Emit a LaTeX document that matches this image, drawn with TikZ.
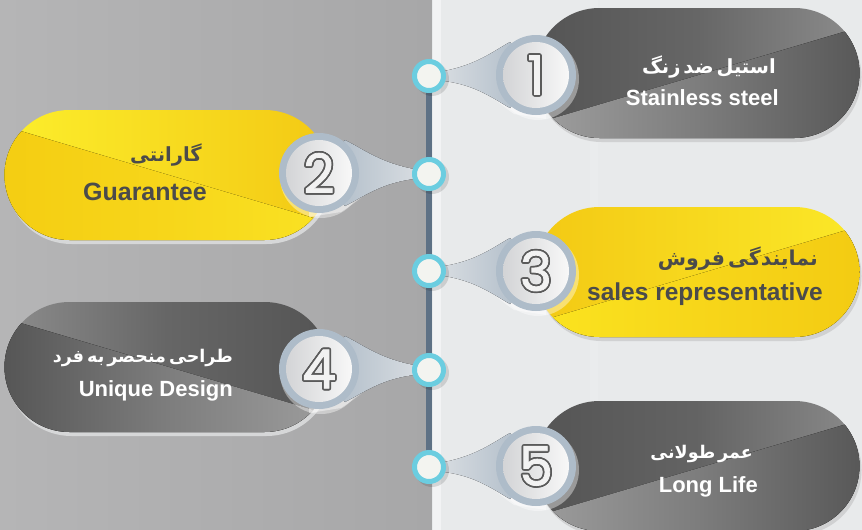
\documentclass[tikz,border=0pt]{standalone}
\usepackage{fontspec}
\setmainfont{Liberation Sans}
\newfontfamily\fafont[Script=Arabic]{DejaVu Sans}
\newfontfamily\digitfont[FakeBold=1.5]{Poppins}
\TeXXeTstate=1
\usetikzlibrary{shapes.misc}
\definecolor{bgLa}{HTML}{B5B5B6}
\definecolor{bgLb}{HTML}{A7A7A8}
\definecolor{bgR}{HTML}{E8EAEB}
\definecolor{tl}{HTML}{5E7185}
\definecolor{cy}{HTML}{6BCDE0}
\definecolor{tfill}{HTML}{F3F4F0}
\definecolor{ringc}{HTML}{AEBCC9}
\definecolor{discA}{HTML}{D3D4D6}
\definecolor{discB}{HTML}{F8F8F8}
\definecolor{ptip}{HTML}{D6DBE0}
\definecolor{pbase}{HTML}{AAB8C5}
\definecolor{digline}{HTML}{5A5A5A}
\definecolor{digfill}{HTML}{F2F2F2}
\definecolor{txtd}{HTML}{4B4B4B}
\definecolor{shR}{HTML}{D0D1D2}
\definecolor{shL}{HTML}{D6D7D8}
\definecolor{yA}{HTML}{FCEE2C}
\definecolor{yB}{HTML}{F3C914}
\definecolor{yC}{HTML}{F4CD12}
\definecolor{yD}{HTML}{F7D61A}
\definecolor{yE}{HTML}{FAE324}
\definecolor{yF}{HTML}{FBE828}
\definecolor{yG}{HTML}{FBE520}
\definecolor{yH}{HTML}{F3CB12}
\newcommand\outdigit[1]{%
  \foreach \oa in {0,22.5,...,337.5}{%
    \pgfmathsetlengthmacro\ox{1.7*cos(\oa)}%
    \pgfmathsetlengthmacro\oy{1.7*sin(\oa)}%
    \rlap{\kern\ox\raisebox{\oy}{\color{digline}#1}}%
  }%
  {\color{digfill}#1}}
\tikzset{
  pill/.style={rounded rectangle, minimum width=325pt, minimum height=130pt, inner sep=0pt, draw=none},
  sheenR/.style n args={3}{path picture={\fill[left color=#1, right color=#3, middle color=#2]
     ([shift={(-170,53)}]path picture bounding box.center) -- ([shift={(170,-48)}]path picture bounding box.center)
     -- ([shift={(170,80)}]path picture bounding box.center) -- ([shift={(-170,80)}]path picture bounding box.center) -- cycle;}},
  sheenL/.style n args={3}{path picture={\fill[left color=#1, right color=#3, middle color=#2]
     ([shift={(-170,-51)}]path picture bounding box.center) -- ([shift={(170,50)}]path picture bounding box.center)
     -- ([shift={(170,80)}]path picture bounding box.center) -- ([shift={(-170,80)}]path picture bounding box.center) -- cycle;}},
  ringnode/.style={circle, fill=ringc, minimum size=80pt, inner sep=0pt},
  disc/.style={circle, left color=discA, right color=discB, minimum size=66pt, inner sep=0pt,
     font=\digitfont\fontsize{54}{54}\selectfont},
  tcirc/.style={circle, fill=tfill, draw=cy, line width=5pt, minimum size=29pt, inner sep=0pt},
  tshadow/.style={circle, fill=black, opacity=0.12, minimum size=34pt, inner sep=0pt},
  en/.style={inner sep=0pt, anchor=base east, font=\bfseries},
  fa/.style={inner sep=0pt, anchor=base east},
}
\newcommand\fasz[1]{\fafont\bfseries\fontsize{#1}{22}\selectfont\spaceskip=3pt\relax}
\begin{document}
\begin{tikzpicture}[x=1pt, y=-1pt]
\useasboundingbox (0,0) rectangle (862,530);
% background
\fill[left color=bgLa, right color=bgLb] (0,0) rectangle (432,530);
\fill[bgR] (432,0) rectangle (862,530);
\fill[white, opacity=0.45] (433,0) rectangle (441,530);
\fill[white, opacity=0.12] (590,0) rectangle (598,530);
% positions
\coordinate (T1) at (429,76);
\coordinate (T2) at (429,174);
\coordinate (T3) at (429,271);
\coordinate (T4) at (429,370);
\coordinate (T5) at (429,467);
\coordinate (N1) at (536,75);
\coordinate (N2) at (319,173);
\coordinate (N3) at (536,271);
\coordinate (N4) at (319,369);
\coordinate (N5) at (536,466);
\coordinate (P1) at (697,73);
\coordinate (P2) at (167,175);
\coordinate (P3) at (697,272);
\coordinate (P4) at (167,367);
\coordinate (P5) at (697,466);
% timeline
\draw[tl, line width=6pt] (T1) -- (T5);
% pill shadows
\node[pill, fill=shR] (s1) at ([shift={(2,4)}]P1) {};
\node[pill, fill=shL] (s2) at ([shift={(2,4)}]P2) {};
\node[pill, fill=shR] (s3) at ([shift={(2,4)}]P3) {};
\node[pill, fill=shL] (s4) at ([shift={(2,4)}]P4) {};
\node[pill, fill=shR] (s5) at ([shift={(2,4)}]P5) {};
% pills
\node[pill, left color=black!67, right color=black!45, middle color=black!60,
      sheenR={black!37}{black!51}{black!66}] (p1) at (P1) {};
\node[pill, left color=yA, right color=yB, sheenL={yC}{yD}{yE}] (p2) at (P2) {};
\node[pill, left color=yB, right color=yF, sheenR={yG}{yD}{yH}] (p3) at (P3) {};
\node[pill, left color=black!45, right color=black!67, middle color=black!60,
      sheenL={black!67}{black!51}{black!38}] (p4) at (P4) {};
\node[pill, left color=black!67, right color=black!46, middle color=black!61,
      sheenR={black!38}{black!51}{black!66}] (p5) at (P5) {};
% pointer shadows (light rim)
\foreach \i in {1,3,5}{
  \fill[white, opacity=0.45] ([shift={(15,1)}]T\i) .. controls ([shift={(-60,4)}]N\i) and ([shift={(-44,24)}]N\i) .. ([shift={(-22,39)}]N\i)
     -- ([shift={(10,44)}]N\i) -- ([shift={(10,-30)}]N\i) -- cycle;
}
\foreach \i in {2,4}{
  \fill[white, opacity=0.45] ([shift={(-15,1)}]T\i) .. controls ([shift={(62,4)}]N\i) and ([shift={(46,24)}]N\i) .. ([shift={(22,39)}]N\i)
     -- ([shift={(-10,44)}]N\i) -- ([shift={(-10,-30)}]N\i) -- cycle;
}
\foreach \i in {1,...,5}{
  \fill[white, opacity=0.4] ([shift={(2,4)}]N\i) circle[radius=41pt];
}
% pointers
\foreach \i in {1,3,5}{
  \fill[left color=ptip, right color=pbase] ([shift={(15,-5)}]T\i) .. controls ([shift={(-60,-10)}]N\i) and ([shift={(-42,-24)}]N\i) .. ([shift={(-26,-33)}]N\i)
     -- (N\i) -- ([shift={(-26,33)}]N\i) .. controls ([shift={(-42,24)}]N\i) and ([shift={(-60,10)}]N\i) .. ([shift={(15,5)}]T\i) -- cycle;
}
\foreach \i in {2,4}{
  \fill[left color=pbase, right color=ptip] ([shift={(-15,-5)}]T\i) .. controls ([shift={(62,-10)}]N\i) and ([shift={(44,-24)}]N\i) .. ([shift={(26,-33)}]N\i)
     -- (N\i) -- ([shift={(26,33)}]N\i) .. controls ([shift={(44,24)}]N\i) and ([shift={(62,10)}]N\i) .. ([shift={(-15,5)}]T\i) -- cycle;
}
% number circles
\node[ringnode] (r1) at (N1) {};
\node[ringnode] (r2) at (N2) {};
\node[ringnode] (r3) at (N3) {};
\node[ringnode] (r4) at (N4) {};
\node[ringnode] (r5) at (N5) {};
\node[disc] (n1) at (N1) {\outdigit{1}};
\node[disc] (n2) at (N2) {\outdigit{2}};
\node[disc] (n3) at (N3) {\outdigit{3}};
\node[disc] (n4) at (N4) {\outdigit{4}};
\node[disc] (n5) at (N5) {\outdigit{5}};
% timeline circles
\node[tshadow] (h1) at ([shift={(3,3)}]T1) {};
\node[tshadow] (h2) at ([shift={(3,3)}]T2) {};
\node[tshadow] (h3) at ([shift={(3,3)}]T3) {};
\node[tshadow] (h4) at ([shift={(3,3)}]T4) {};
\node[tshadow] (h5) at ([shift={(3,3)}]T5) {};
\node[tcirc] (t1) at (T1) {};
\node[tcirc] (t2) at (T2) {};
\node[tcirc] (t3) at (T3) {};
\node[tcirc] (t4) at (T4) {};
\node[tcirc] (t5) at (T5) {};
% texts
\node[fa, text=white] (f1) at (776,73) {\fasz{19.5}\beginR استیل ضد زنگ\endR};
\node[en, text=white, font=\bfseries\fontsize{22}{24}\selectfont] (e1) at (779,105) {Stainless steel};
\node[fa, text=txtd] (f2) at (202,161) {\fasz{19.5}\beginR گارانتی\endR};
\node[en, text=txtd, font=\bfseries\fontsize{25}{27}\selectfont] (e2) at (207,200) {Guarantee};
\node[fa, text=txtd] (f3) at (818,265) {\fasz{20.5}\beginR نمایندگی فروش\endR};
\node[en, text=txtd, font=\bfseries\fontsize{24.5}{27}\selectfont] (e3) at (823,300) {sales representative};
\node[fa, text=white] (f4) at (233,362) {\fasz{17.5}\beginR طراحی منحصر به فرد\endR};
\node[en, text=white, font=\bfseries\fontsize{22}{24}\selectfont] (e4) at (233,396) {Unique Design};
\node[fa, text=white] (f5) at (753,458) {\fasz{17.5}\beginR عمر طولانی\endR};
\node[en, text=white, font=\bfseries\fontsize{22}{24}\selectfont] (e5) at (758,492) {Long Life};
\end{tikzpicture}
\end{document}
